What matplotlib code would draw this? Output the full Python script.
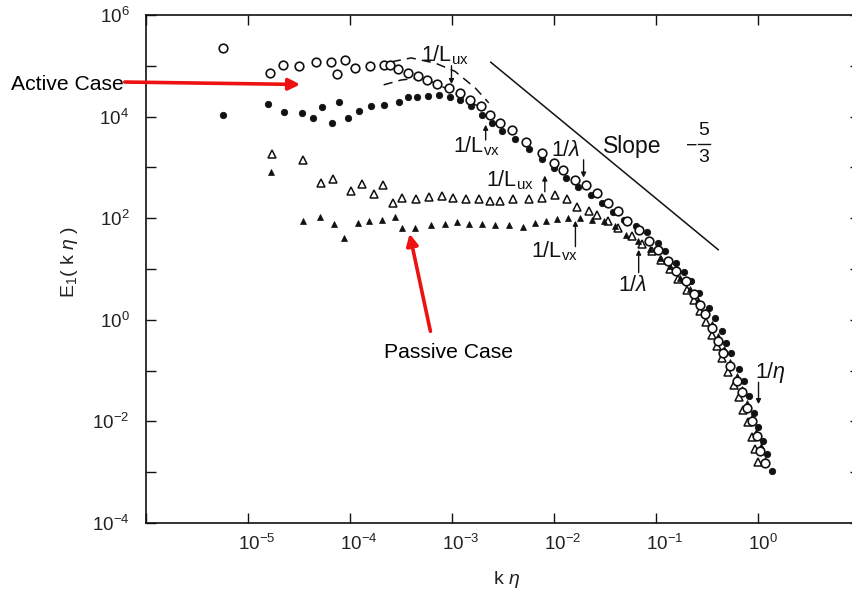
import numpy as np
import matplotlib
matplotlib.use("Agg")
import matplotlib.pyplot as plt
from matplotlib.ticker import FixedLocator, FixedFormatter, NullLocator
import matplotlib.transforms as mtransforms

plt.rcParams['font.family'] = ['Liberation Sans', 'DejaVu Sans']
plt.rcParams['mathtext.fontset'] = 'custom'
plt.rcParams['mathtext.rm'] = 'Liberation Sans'
plt.rcParams['mathtext.it'] = 'Liberation Sans:italic'
plt.rcParams['mathtext.sf'] = 'Liberation Sans'

# ---- data (log10 values) ----
active_open_logk = [-5.25, -4.78, -4.66, -4.50, -4.33, -4.19, -4.13, -4.05, -3.95, -3.80, -3.67, -3.61,
                    -3.53, -3.43, -3.33, -3.25, -3.15, -3.03, -2.92, -2.82, -2.72, -2.63, -2.53, -2.41,
                    -2.27, -2.12, -2.00, -1.91, -1.79, -1.69, -1.58, -1.47, -1.37, -1.28, -1.17, -1.07,
                    -0.98, -0.88, -0.80, -0.71, -0.63, -0.57, -0.52, -0.45, -0.39, -0.34, -0.27, -0.21,
                    -0.16, -0.11, -0.06, -0.01, 0.02, 0.07]
active_open_logE = [5.35, 4.855, 5.02, 5.00, 5.08, 5.08, 4.83, 5.12, 4.95, 5.00, 5.02, 5.02,
                    4.93, 4.85, 4.79, 4.72, 4.64, 4.56, 4.46, 4.33, 4.20, 4.04, 3.87, 3.74,
                    3.50, 3.28, 3.09, 2.95, 2.76, 2.66, 2.50, 2.30, 2.15, 1.94, 1.76, 1.56,
                    1.38, 1.15, 0.96, 0.76, 0.50, 0.30, 0.11, -0.16, -0.42, -0.65, -0.91, -1.20,
                    -1.43, -1.73, -1.99, -2.28, -2.58, -2.81]

active_fill_logk = [-5.25, -4.80, -4.65, -4.47, -4.36, -4.27, -4.18, -4.11, -4.02, -3.91, -3.79, -3.67,
                    -3.52, -3.43, -3.34, -3.24, -3.13, -3.02, -2.92, -2.81, -2.71, -2.61, -2.51, -2.38,
                    -2.25, -2.12, -2.00, -1.88, -1.76, -1.64, -1.53, -1.42, -1.31, -1.20, -1.09, -0.98,
                    -0.91, -0.80, -0.73, -0.66, -0.58, -0.48, -0.42, -0.35, -0.31, -0.26, -0.19, -0.14,
                    -0.09, -0.04, 0.00, 0.05, 0.09, 0.135]
active_fill_logE = [4.04, 4.25, 4.10, 4.08, 3.98, 4.18, 3.87, 4.28, 3.97, 4.12, 4.20, 4.23,
                    4.28, 4.39, 4.39, 4.41, 4.43, 4.39, 4.33, 4.20, 4.04, 3.87, 3.72, 3.55,
                    3.36, 3.16, 2.98, 2.80, 2.62, 2.46, 2.30, 2.12, 1.96, 1.84, 1.72, 1.52,
                    1.35, 1.12, 0.95, 0.76, 0.53, 0.24, 0.04, -0.22, -0.45, -0.65, -0.97, -1.20,
                    -1.50, -1.83, -2.12, -2.38, -2.64, -2.97]

passive_open_logk = [-4.76, -4.46, -4.28, -4.17, -3.99, -3.88, -3.76, -3.68, -3.58, -3.49, -3.35, -3.23,
                     -3.10, -2.99, -2.86, -2.74, -2.63, -2.53, -2.40, -2.25, -2.12, -1.99, -1.87, -1.77,
                     -1.66, -1.58, -1.47, -1.37, -1.24, -1.14, -1.04, -0.95, -0.86, -0.78, -0.70, -0.63,
                     -0.57, -0.51, -0.45, -0.40, -0.35, -0.29, -0.24, -0.19, -0.15, -0.10, -0.06, -0.03, 0.00]
passive_open_logE = [3.27, 3.14, 2.69, 2.78, 2.53, 2.68, 2.48, 2.65, 2.30, 2.40, 2.37, 2.42,
                     2.43, 2.40, 2.38, 2.37, 2.33, 2.33, 2.37, 2.38, 2.40, 2.46, 2.37, 2.23,
                     2.14, 2.07, 1.94, 1.81, 1.64, 1.50, 1.35, 1.18, 1.00, 0.80, 0.58, 0.38,
                     0.18, -0.05, -0.30, -0.52, -0.75, -1.02, -1.28, -1.52, -1.78, -2.02, -2.30, -2.55, -2.80]

passive_fill_logk = [-4.77, -4.46, -4.29, -4.16, -4.06, -3.92, -3.81, -3.69, -3.56, -3.49, -3.36, -3.21,
                     -3.07, -2.95, -2.83, -2.71, -2.58, -2.44, -2.30, -2.19, -2.08, -1.97, -1.86, -1.75,
                     -1.63, -1.51, -1.40, -1.29, -1.18, -1.06, -0.96, -0.86, -0.76, -0.67, -0.59, -0.52,
                     -0.45, -0.39, -0.33, -0.27, -0.21, -0.16, -0.11, -0.06, -0.02, 0.03, 0.07]
passive_fill_logE = [2.90, 1.95, 2.02, 1.89, 1.61, 1.91, 1.94, 1.96, 2.02, 1.81, 1.81, 1.87,
                     1.89, 1.92, 1.89, 1.89, 1.87, 1.87, 1.83, 1.91, 1.94, 1.99, 2.00, 2.00,
                     1.97, 1.94, 1.84, 1.66, 1.55, 1.40, 1.22, 1.05, 0.82, 0.60, 0.38, 0.16,
                     -0.08, -0.32, -0.58, -0.84, -1.10, -1.36, -1.64, -1.92, -2.20, -2.48, -2.75]

dash_upper_logk = [-3.59, -3.40, -3.16, -2.97, -2.77, -2.64]
dash_upper_logE = [5.08, 5.155, 5.05, 4.89, 4.56, 4.27]
dash_lower_logk = [-3.67, -3.50, -3.33, -3.16, -2.97, -2.74]
dash_lower_logE = [4.625, 4.72, 4.76, 4.66, 4.46, 4.20]

slope_logk = [-2.62, -0.39]
slope_logE = [5.07, 1.38]

ytick_labels = [r'$10^{-4}$', '', r'$10^{-2}$', '', r'$10^{0}$', '', r'$10^{2}$', '', r'$10^{4}$', '', r'$10^{6}$']
xtick_labels = ['', r'$10^{-5}$', r'$10^{-4}$', r'$10^{-3}$', r'$10^{-2}$', r'$10^{-1}$', r'$10^{0}$', '']

def p10(a):
    return np.power(10.0, np.asarray(a, dtype=float))

W, H = 852, 592
fig = plt.figure(figsize=(W / 100, H / 100), dpi=100)
ax = fig.add_axes([146 / W, (H - 523) / H, (860 - 146) / W, (523 - 15) / H])
ax.set_xscale('log')
ax.set_yscale('log')
ax.set_xlim(1e-6, 1e1)
ax.set_ylim(1e-4, 1e6)

ink = '#111111'
ax.plot(p10(active_open_logk), p10(active_open_logE), 'o', ms=6.2, mfc='white', mec=ink, mew=1.2, zorder=4)
ax.plot(p10(active_fill_logk), p10(active_fill_logE), 'o', ms=4.6, mfc=ink, mec=ink, mew=0.6, zorder=3)
ax.plot(p10(passive_open_logk), p10(passive_open_logE), '^', ms=5.4, mfc='white', mec=ink, mew=1.1, zorder=3)
ax.plot(p10(passive_fill_logk), p10(passive_fill_logE), '^', ms=5.0, mfc=ink, mec=ink, mew=0.5, zorder=3)
ax.plot(p10(dash_upper_logk), p10(dash_upper_logE), '--', color=ink, lw=1.1, dashes=(6, 4), zorder=2)
ax.plot(p10(dash_lower_logk), p10(dash_lower_logE), '--', color=ink, lw=1.1, dashes=(6, 4), zorder=2)
ax.plot(p10(slope_logk), p10(slope_logE), '-', color=ink, lw=1.1, zorder=2)

# ticks
ax.yaxis.set_major_locator(FixedLocator(p10(np.arange(-4, 7))))
ax.yaxis.set_major_formatter(FixedFormatter(ytick_labels))
ax.xaxis.set_major_locator(FixedLocator(p10(np.arange(-6, 2))))
ax.xaxis.set_major_formatter(FixedFormatter(xtick_labels))
ax.xaxis.set_minor_locator(NullLocator())
ax.yaxis.set_minor_locator(NullLocator())
ax.tick_params(which='major', direction='in', length=7, width=1.0, color=ink,
               top=True, right=True, labelsize=13.5, labelcolor='#222222')
ax.tick_params(axis='y', pad=12)
ax.tick_params(axis='x', pad=8)
for s in ax.spines.values():
    s.set_linewidth(1.2)
    s.set_color(ink)

off = mtransforms.ScaledTranslation(-10 / 100, 0, fig.dpi_scale_trans)
for lab in ax.get_xticklabels():
    lab.set_horizontalalignment('left')
    lab.set_transform(lab.get_transform() + off)

# annotations in data coordinates
fs = 15.5
def note(lk, lE, main, sub, size=fs):
    ax.text(p10(lk), p10(lE), main + r'$_{\mathrm{' + sub + '}}$' if sub else main,
            fontsize=size, ha='left', va='center', color=ink, zorder=6)

def arrow(lk, lE0, lE1):
    ax.annotate('', xy=(p10(lk), p10(lE1)), xytext=(p10(lk), p10(lE0)),
                arrowprops=dict(arrowstyle='-|>', color=ink, lw=1.0, mutation_scale=7,
                                shrinkA=0, shrinkB=0), zorder=6)

note(-3.30, 5.21, '1/L', 'ux')
arrow(-3.005, 5.00, 4.64)
note(-2.99, 3.41, '1/L', 'vx')
arrow(-2.67, 3.54, 3.84)
note(-2.025, 3.33, r'1/$\lambda$', '')
arrow(-1.71, 3.15, 2.80)
note(-2.67, 2.75, '1/L', 'ux')
arrow(-2.09, 2.52, 2.84)
note(-2.23, 1.35, '1/L', 'vx')
arrow(-1.79, 1.44, 1.95)
note(-1.37, 0.68, r'1/$\lambda$', '')
arrow(-1.17, 0.93, 1.38)
note(-0.025, -1.03, r'1/$\eta$', '')
arrow(0.005, -1.23, -1.66)

ax.text(p10(-1.515), p10(3.41), 'Slope', fontsize=16.5, ha='left', va='center', color=ink)
ax.text(p10(-0.655), p10(3.41), '\u2212', fontsize=14, ha='center', va='center', color=ink)
ax.text(p10(-0.53), p10(3.72), '5', fontsize=14, ha='center', va='center', color=ink)
ax.text(p10(-0.53), p10(3.20), '3', fontsize=14, ha='center', va='center', color=ink)
ax.plot(p10([-0.585, -0.475]), p10([3.46, 3.46]), '-', color=ink, lw=1.0)

# axis labels
fig.text(70 / W, 1 - 262 / H, r'E$_{1}$( k $\eta$ )', rotation=90, fontsize=14,
         ha='center', va='center', color='#222222')
fig.text(507 / W, 1 - 579 / H, r'k $\eta$', fontsize=14, ha='center', va='center', color='#222222')

# red annotations
red = '#ee1111'
fig.text(11 / W, 1 - 84 / H, 'Active Case', fontsize=15.2, ha='left', va='center', color='black')
fig.patches.append(matplotlib.patches.FancyArrowPatch(
    (122 / W, 1 - 82 / H), (303 / W, 1 - 84.5 / H), transform=fig.transFigure,
    arrowstyle='-|>', mutation_scale=17, color=red, lw=2.6))
fig.text(448 / W, 1 - 352 / H, 'Passive Case', fontsize=15.2, ha='center', va='center', color='black')
fig.patches.append(matplotlib.patches.FancyArrowPatch(
    (431 / W, 1 - 334 / H), (409 / W, 1 - 231 / H), transform=fig.transFigure,
    arrowstyle='-|>', mutation_scale=17, color=red, lw=2.6))

fig.savefig('out.png', dpi=100)
